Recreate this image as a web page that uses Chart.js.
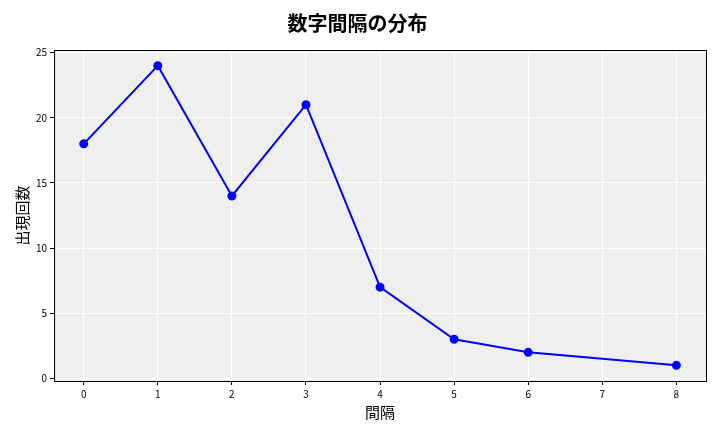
<!DOCTYPE html>
<html><head><meta charset="utf-8">
<script src="https://cdn.jsdelivr.net/npm/chart.js@4/dist/chart.umd.min.js"></script>
<style>html,body{margin:0;padding:0;background:#fff}#w{width:720px;height:432px}</style>
</head><body><div id="w"><canvas id="c"></canvas></div>
<script>
const gaps = [0,1,2,3,4,5,6,8];
const counts = [18,24,14,21,7,3,2,1];
const xTicks = [0,1,2,3,4,5,6,7,8];
const yTicks = [0,5,10,15,20,25];
const F = "'Noto Sans CJK JP', 'DejaVu Sans', sans-serif";
const bg = {id:'bg',beforeDraw(ch){const a=ch.chartArea,x=ch.ctx;x.save();x.fillStyle='#efefef';x.fillRect(a.left,a.top,a.right-a.left,a.bottom-a.top);x.restore();},
afterDraw(ch){const a=ch.chartArea,x=ch.ctx;x.save();x.strokeStyle='#000';x.lineWidth=1;x.strokeRect(a.left+0.5,a.top+0.5,a.right-a.left,a.bottom-a.top);x.restore();}};
new Chart(document.getElementById('c'),{
type:'line',
data:{datasets:[{data:gaps.map((g,i)=>({x:g,y:counts[i]})),borderColor:'#0000ff',backgroundColor:'#0000ff',borderWidth:2,pointRadius:3.5,pointHoverRadius:3.5,tension:0}]},
options:{responsive:true,maintainAspectRatio:false,animation:false,
layout:{padding:{left:9,right:14,top:5,bottom:7}},
plugins:{legend:{display:false},tooltip:{enabled:false},
title:{display:true,text:'数字間隔の分布',color:'#000',font:{family:F,size:20,weight:'bold'},padding:{top:6,bottom:15}}},
scales:{
x:{type:'linear',min:-0.4,max:8.4,afterBuildTicks:s=>{s.ticks=xTicks.map(v=>({value:v}));},
grid:{color:'#ffffff',lineWidth:1,drawTicks:true,tickColor:'#000',tickLength:4},border:{display:false},
ticks:{color:'#000',font:{family:F,size:10}},
title:{display:true,text:'間隔',color:'#000',font:{family:F,size:15},padding:{top:0}}},
y:{min:-0.2,max:25.2,afterBuildTicks:s=>{s.ticks=yTicks.map(v=>({value:v}));},
grid:{color:'#ffffff',lineWidth:1,tickColor:'#000',tickLength:4},border:{display:false},
ticks:{color:'#000',font:{family:F,size:10}},
title:{display:true,text:'出現回数',color:'#000',font:{family:F,size:15},padding:{bottom:2}}}}},
plugins:[bg]});
</script></body></html>
